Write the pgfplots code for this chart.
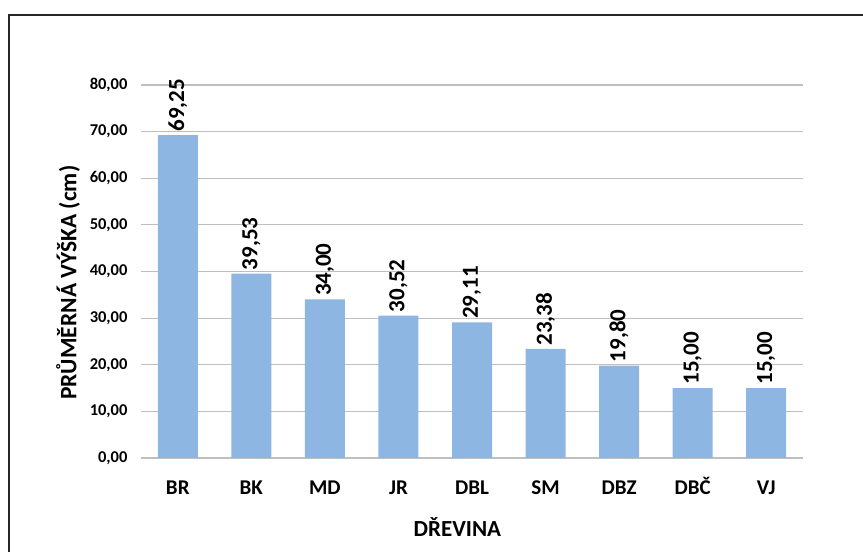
\documentclass[border=0pt]{standalone}
\usepackage{pgfplots}
\pgfplotsset{compat=1.18}
\usepackage{fontspec}
\setmainfont{Carlito}
\definecolor{barblue}{RGB}{141,182,226}
\definecolor{gridgray}{RGB}{191,191,191}
\begin{document}
\begin{tikzpicture}[x=1pt,y=1pt]
\useasboundingbox (0,0) rectangle (863,552);
\draw[line width=1.6pt, black!85] (9,-20) rectangle (900,537);
\begin{axis}[
  at={(141pt,94pt)}, anchor=south west,
  scale only axis, width=662pt, height=373pt,
  xmin=-0.5, xmax=8.5, ymin=0, ymax=80,
  ytick={0,10,...,80},
  xtick=data,
  xticklabels={BR,BK,MD,JR,DBL,SM,DBZ,DBČ,VJ},
  axis line style={draw=none},
  major tick length=0pt,
  ymajorgrids, grid style={gridgray, line width=1.2pt},
  /pgf/number format/assume math mode=true,
  /pgf/number format/fixed,
  /pgf/number format/fixed zerofill,
  /pgf/number format/precision=2,
  /pgf/number format/use comma,
  /pgf/number format/1000 sep={},
  yticklabel style={font=\bfseries\fontsize{16.5}{19}\selectfont, xshift=-10pt},
  xticklabel style={font=\bfseries\fontsize{21}{24}\selectfont, anchor=base, yshift=-36pt},
  ylabel={PRŮMĚRNÁ VÝŠKA (cm)},
  ylabel style={font=\bfseries\fontsize{23.5}{27}\selectfont, at={(axis description cs:-0.11,0.47)}, anchor=center},
  xlabel={DŘEVINA},
  xlabel style={font=\bfseries\fontsize{23}{27}\selectfont, at={(axis description cs:0.478,-0.185)}, anchor=center},
  ybar, bar width=40pt,
  nodes near coords,
  every node near coord/.append style={rotate=90, anchor=west, font=\bfseries\fontsize{23}{27}\selectfont, text=black},
]
\addplot[fill=barblue, draw=none] coordinates {
(0,69.25) (1,39.53) (2,34.00) (3,30.52) (4,29.11) (5,23.38) (6,19.80) (7,15.00) (8,15.00)
};
\end{axis}
\end{tikzpicture}
\end{document}
